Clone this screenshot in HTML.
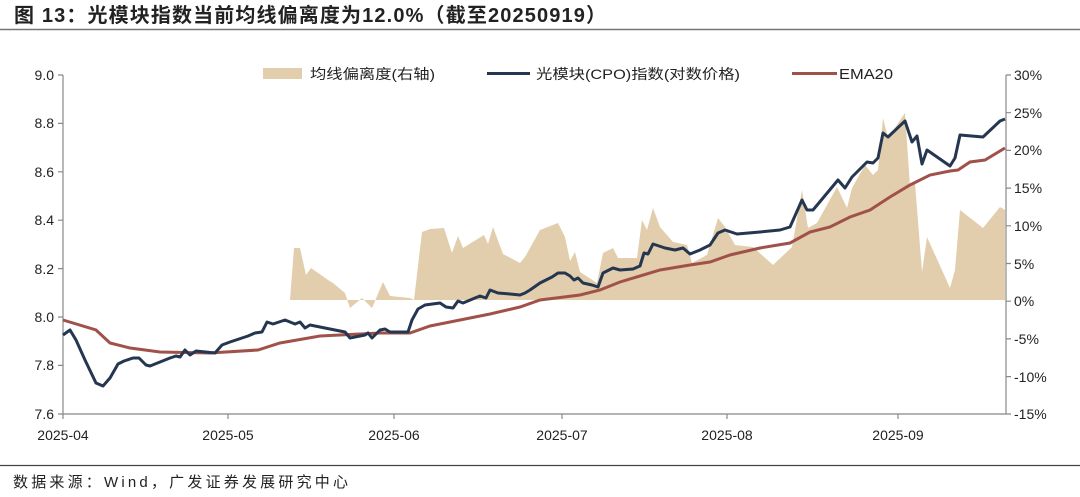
<!DOCTYPE html>
<html><head><meta charset="utf-8"><style>
body{margin:0;background:#fff;width:1080px;height:492px;overflow:hidden;font-family:"Liberation Sans","Noto Sans CJK SC",sans-serif}
</style></head><body>
<svg width="1080" height="492" xmlns="http://www.w3.org/2000/svg" font-family="Liberation Sans, Noto Sans CJK SC, sans-serif">
<text x="14" y="22" font-size="20" font-weight="bold" fill="#222" textLength="592" lengthAdjust="spacing">图 13：光模块指数当前均线偏离度为12.0%（截至20250919）</text>
<line x1="0" y1="29.5" x2="1080" y2="29.5" stroke="#777" stroke-width="1.5"/>
<polygon fill="#e2cdac" points="290,300 294,248 300,248 306,275 311,268 328,280 333,283 345,293 350,308 362,298 372,308 383,282 390,296 410,298 414,300 422,232 430,229 444,228 452,253 458,236 463,248 484,235 488,244 493,227 503,254 520,263 525,257 540,230 558,223 565,237 570,261 575,252 580,272 597,283 603,253 613,248 618,258 637,258 642,220 647,230 653,208 660,227 673,242 687,245 692,263 707,255 718,218 725,227 735,245 753,247 773,265 792,247 802,190 808,228 817,223 837,187 847,208 852,188 865,165 873,175 878,170 883,118 888,138 905,113 910,187 915,183 922,272 927,237 950,288 955,270 960,210 983,228 1000,207 1005,210 1005,300"/>
<g stroke="#888" stroke-width="1.2" fill="none">
<line x1="63" y1="75" x2="63" y2="414"/><line x1="63" y1="414" x2="1006" y2="414"/><line x1="1006" y1="75" x2="1006" y2="414"/>
<path d="M58 75H63M58 123.4H63M58 171.8H63M58 220.2H63M58 268.6H63M58 317H63M58 365.4H63M58 414H63"/>
<path d="M1006 75H1011M1006 112.7H1011M1006 150.4H1011M1006 188.1H1011M1006 225.8H1011M1006 263.5H1011M1006 301.2H1011M1006 338.9H1011M1006 376.6H1011M1006 414H1011"/>
<path d="M63 414V419M228 414V419M394 414V419M562 414V419M727 414V419M898 414V419"/>
</g>
<g font-size="14" fill="#222" text-anchor="end">
<text x="54" y="80">9.0</text><text x="54" y="128">8.8</text><text x="54" y="177">8.6</text><text x="54" y="225">8.4</text><text x="54" y="274">8.2</text><text x="54" y="322">8.0</text><text x="54" y="370">7.8</text><text x="54" y="419">7.6</text>
</g>
<g font-size="14" fill="#222" text-anchor="start">
<text x="1014" y="80">30%</text><text x="1014" y="118">25%</text><text x="1014" y="155">20%</text><text x="1014" y="193">15%</text><text x="1014" y="231">10%</text><text x="1014" y="269">5%</text><text x="1014" y="306">0%</text><text x="1014" y="344">-5%</text><text x="1014" y="382">-10%</text><text x="1014" y="419">-15%</text>
</g>
<g font-size="14" fill="#222" text-anchor="middle">
<text x="63" y="440">2025-04</text><text x="228" y="440">2025-05</text><text x="394" y="440">2025-06</text><text x="562" y="440">2025-07</text><text x="727" y="440">2025-08</text><text x="898" y="440">2025-09</text>
</g>
<polyline fill="none" stroke="#a0524a" stroke-width="3" points="63,320 96,330 110,343 130,348 160,352 210,353 258,350 280,343 320,336 380,333 410,333 430,326 460,320 490,314 520,307 540,300 580,295 600,290 620,282 660,270 690,265 710,262 730,255 760,248 790,243 810,232 830,227 850,217 870,210 890,197 910,185 930,175 950,171 958,170 970,162 985,160 1005,148"/>
<polyline fill="none" stroke="#243650" stroke-width="3" stroke-linejoin="round" points="63,335 70,330 76,340 85,360 96,383 103,386 110,378 118,364 124,361 133,358 139,358 146,365 150,366 160,362 170,358 176,356 180,357 185,350 190,355 196,351 215,353 222,345 230,342 248,336 255,333 262,332 267,322 273,324 285,320 295,324 300,322 305,328 310,325 320,327 330,329 345,332 350,338 365,335 368,333 372,338 380,330 385,329 390,332 408,332 412,320 418,309 425,305 440,303 446,307 453,308 458,301 463,303 475,298 480,296 486,298 490,290 498,293 510,294 520,295 525,293 530,290 540,283 552,277 558,273 565,273 570,276 574,280 578,278 583,283 592,285 598,287 603,273 613,268 620,270 633,269 640,266 644,253 648,254 653,244 665,248 675,250 683,248 690,254 700,250 710,245 718,233 725,230 737,234 760,232 780,230 790,227 802,200 807,210 813,210 838,180 845,188 852,177 867,162 873,163 878,158 883,133 888,137 905,121 912,142 917,136 922,164 927,150 950,166 955,158 960,135 983,137 1000,121 1005,119"/>
<rect x="263" y="68" width="39" height="11" fill="#e2cdac"/>
<text x="310" y="79" font-size="14" fill="#222" textLength="125" lengthAdjust="spacingAndGlyphs">均线偏离度(右轴)</text>
<line x1="487" y1="73.5" x2="530" y2="73.5" stroke="#243650" stroke-width="3"/>
<text x="536" y="79" font-size="14" fill="#222" textLength="204" lengthAdjust="spacingAndGlyphs">光模块(CPO)指数(对数价格)</text>
<line x1="792" y1="73.5" x2="837" y2="73.5" stroke="#a0524a" stroke-width="3"/>
<text x="839" y="79" font-size="15" fill="#222" textLength="54" lengthAdjust="spacingAndGlyphs">EMA20</text>
<line x1="0" y1="465.5" x2="1080" y2="465.5" stroke="#444" stroke-width="1.2"/>
<text x="13" y="487" font-size="15" fill="#222" textLength="335" lengthAdjust="spacing">数据来源：Wind，广发证券发展研究中心</text>
</svg>
</body></html>
